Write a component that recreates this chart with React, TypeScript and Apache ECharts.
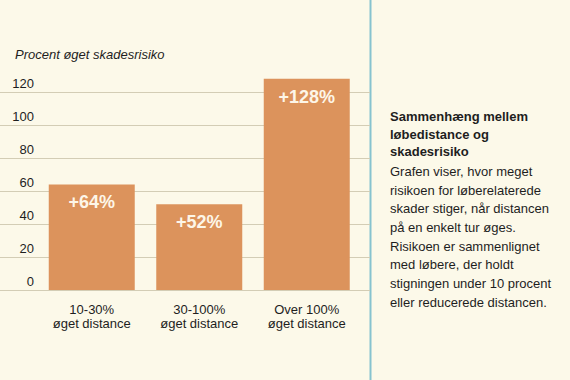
import React, { useEffect, useRef } from "react";
import * as echarts from "echarts";

const categories = ["10-30%\nøget distance", "30-100%\nøget distance", "Over 100%\nøget distance"];
const values = [64, 52, 128];
const barLabels = ["+64%", "+52%", "+128%"];
const yTicks = [0, 20, 40, 60, 80, 100, 120];

const axisTitle = "Procent øget skadesrisiko";
const sideTitle = "Sammenhæng mellem\nløbedistance og\nskadesrisiko";
const sideBody =
  "Grafen viser, hvor meget\nrisikoen for løberelaterede\nskader stiger, når distancen\npå en enkelt tur øges.\nRisikoen er sammenlignet\nmed løbere, der holdt\nstigningen under 10 procent\neller reducerede distancen.";

const FONT = "Liberation Sans, Arial, sans-serif";
const BG = "#fcf9e9";
const BAR = "#dc935c";
const GRID = "#d3cdb5";
const TEXT = "#1e1e1e";

export default function App() {
  const ref = useRef<HTMLDivElement>(null);
  useEffect(() => {
    document.body.style.margin = "0";
    const chart = echarts.init(ref.current!, null, { renderer: "svg" });
    const yMin = yTicks[0];
    const yMax = yTicks[yTicks.length - 1];
    const yInterval = yTicks[1] - yTicks[0];
    chart.setOption({
      animation: false,
      backgroundColor: BG,
      textStyle: { fontFamily: FONT },
      grid: [
        { left: 0, right: 200, top: 92, bottom: 90 },
        { left: 38, right: 209.5, top: 92, bottom: 90 },
      ],
      xAxis: [
        { type: "category", gridIndex: 0, data: categories, show: false },
        {
          type: "category",
          gridIndex: 1,
          data: categories,
          axisLine: { show: false },
          axisTick: { show: false },
          axisLabel: {
            color: TEXT,
            fontSize: 13,
            lineHeight: 14,
            margin: 12,
            fontFamily: FONT,
          },
        },
      ],
      yAxis: [
        {
          type: "value",
          gridIndex: 0,
          min: yMin,
          max: yMax,
          interval: yInterval,
          axisLine: { show: false },
          axisTick: { show: false },
          splitLine: { lineStyle: { color: GRID, width: 1.2 } },
          axisLabel: {
            inside: true,
            align: "right",
            verticalAlign: "bottom",
            margin: 34,
            padding: [0, 0, 2, 0],
            color: TEXT,
            fontSize: 13,
            fontFamily: FONT,
          },
        },
        {
          type: "value",
          gridIndex: 1,
          min: yMin,
          max: yMax,
          interval: yInterval,
          show: false,
          splitLine: { show: false },
        },
      ],
      series: [
        {
          type: "bar",
          xAxisIndex: 1,
          yAxisIndex: 1,
          data: values,
          barWidth: "80%",
          clip: false,
          itemStyle: { color: BAR },
          label: {
            show: true,
            position: "insideTop",
            distance: 9,
            color: "#fdf6e8",
            fontSize: 18,
            fontWeight: "bold",
            fontFamily: FONT,
            formatter: (p: any) => barLabels[p.dataIndex],
          },
        },
      ],
      graphic: [
        {
          type: "text",
          left: 15,
          top: 48,
          style: {
            text: axisTitle,
            fontSize: 13,
            fontStyle: "italic",
            fontWeight: 500,
            fill: TEXT,
            fontFamily: FONT,
          },
        },
        {
          type: "line",
          shape: { x1: 370.5, y1: 0, x2: 370.5, y2: 380 },
          style: { stroke: "#86c3cf", lineWidth: 2 },
        },
        {
          type: "text",
          left: 390,
          top: 108,
          style: {
            text: sideTitle,
            fontSize: 13,
            fontWeight: "bold",
            lineHeight: 17.5,
            fill: TEXT,
            fontFamily: FONT,
          },
        },
        {
          type: "text",
          left: 390,
          top: 162,
          style: {
            text: sideBody,
            fontSize: 13,
            lineHeight: 18.7,
            fill: TEXT,
            fontFamily: FONT,
          },
        },
      ],
    });
    return () => chart.dispose();
  }, []);
  return (
    <div
      ref={ref}
      style={{ position: "fixed", left: 0, top: 0, width: 570, height: 380 }}
    />
  );
}
